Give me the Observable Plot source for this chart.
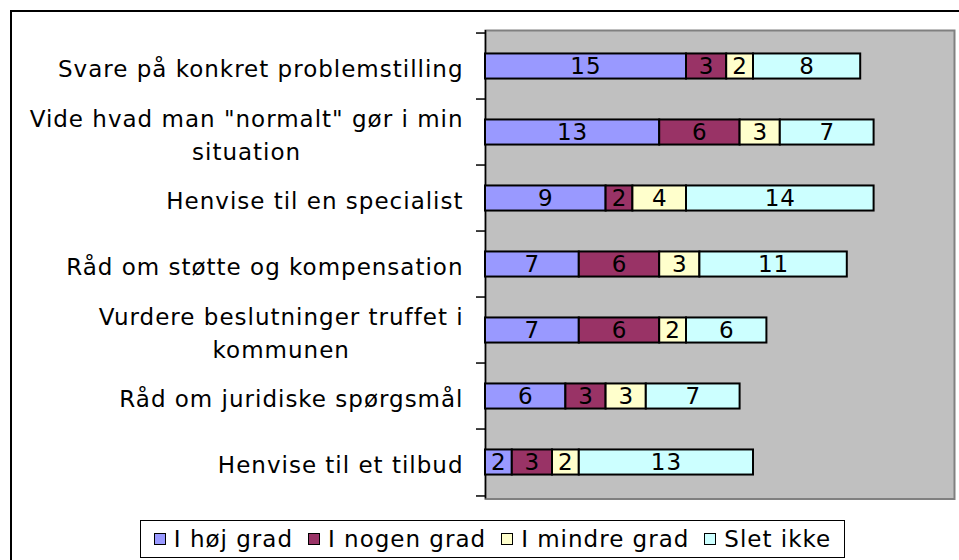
<!DOCTYPE html>
<html>
<head>
<meta charset="utf-8">
<script src="https://cdn.jsdelivr.net/npm/d3@7"></script>
<script src="https://cdn.jsdelivr.net/npm/@observablehq/plot@0.6"></script>
<style>
  html, body { margin: 0; padding: 0; background: #fff; overflow: hidden; width: 959px; height: 560px; }
  body { position: relative; font-family: "DejaVu Sans", Verdana, sans-serif; }
  #frame { position: absolute; left: 10px; top: 10px; width: 1000px; height: 600px; border: 2px solid #000; box-sizing: border-box; }
  #chart { position: absolute; left: 0; top: 0; }
  #legend { position: absolute; left: 140px; top: 520px; width: 705px; height: 38px; border: 1px solid #000; box-sizing: border-box; background: #fff;
            display: flex; align-items: center; justify-content: center; gap: 15px; font-size: 23px; letter-spacing: 1px; color: #000; white-space: nowrap; }
  #legend .item { display: flex; align-items: center; }
  #legend .sw { width: 10px; height: 10px; border: 1.5px solid #000; margin-right: 8px; }
</style>
</head>
<body>
<div id="frame"></div>
<div id="chart"></div>
<div id="legend"></div>
<script>
const categories = [
  "Svare på konkret problemstilling",
  "Vide hvad man \"normalt\" gør i min situation",
  "Henvise til en specialist",
  "Råd om støtte og kompensation",
  "Vurdere beslutninger truffet i kommunen",
  "Råd om juridiske spørgsmål",
  "Henvise til et tilbud"
];
const categoryLabels = [
  "Svare på konkret problemstilling",
  "Vide hvad man \"normalt\" gør i min\nsituation",
  "Henvise til en specialist",
  "Råd om støtte og kompensation",
  "Vurdere beslutninger truffet i\nkommunen",
  "Råd om juridiske spørgsmål",
  "Henvise til et tilbud"
];
const seriesNames = ["I høj grad", "I nogen grad", "I mindre grad", "Slet ikke"];
const seriesColors = ["#9999FF", "#993366", "#FFFFCC", "#CCFFFF"];
const iHojGrad     = [15, 13, 9, 7, 7, 6, 2];
const iNogenGrad   = [3, 6, 2, 6, 6, 3, 3];
const iMindreGrad  = [2, 3, 4, 3, 2, 3, 2];
const sletIkke     = [8, 7, 14, 11, 6, 7, 13];

const seriesValues = [iHojGrad, iNogenGrad, iMindreGrad, sletIkke];
const data = [];
categories.forEach((c, i) => {
  seriesNames.forEach((s, j) => {
    data.push({category: c, series: s, value: seriesValues[j][i]});
  });
});

const W = 959, H = 510;
const mL = 485, mR = 5, mT = 30, mB = 11.5;
const step = (H - mT - mB) / categories.length;
const barH = 26;
const inset = (step - barH) / 2;
const fontSize = 23;
const ls = 1;
const font = `${fontSize}px "DejaVu Sans"`;

const ctx = document.createElement("canvas").getContext("2d");
ctx.font = font;
const measure = (s) => Math.max(...s.split("\n").map(l => ctx.measureText(l).width + l.length * ls));

const labelMarks = categories.map((c, i) => {
  const w = measure(categoryLabels[i]);
  return Plot.text([c], {
    y: d => d,
    text: () => categoryLabels[i],
    frameAnchor: "left",
    textAnchor: "middle",
    lineAnchor: "middle",
    lineHeight: 1.45,
    dx: -(22 + w / 2),
    fontSize,
    fill: "#000"
  });
});

const chart = Plot.plot({
  width: W,
  height: H,
  marginLeft: mL,
  marginRight: mR,
  marginTop: mT,
  marginBottom: mB,
  style: {fontFamily: '"DejaVu Sans", Verdana, sans-serif', fontSize: `${fontSize}px`, letterSpacing: `${ls}px`, background: "transparent", overflow: "visible"},
  x: {domain: [0, 35], axis: null},
  y: {domain: categories, padding: 0, axis: null},
  color: {domain: seriesNames, range: seriesColors},
  marks: [
    Plot.frame({fill: "#C0C0C0", stroke: "#808080", strokeWidth: 2}),
    Plot.ruleX([0], {stroke: "#000", strokeWidth: 1.5}),
    Plot.axisY({ticks: categories, tickSize: 9, tickFormat: () => "", label: null, dy: -step / 2, stroke: "#000", strokeWidth: 1.5}),
    Plot.axisY({ticks: categories.slice(-1), tickSize: 9, tickFormat: () => "", label: null, dy: step / 2, stroke: "#000", strokeWidth: 1.5}),
    Plot.barX(data, Plot.stackX({
      x: "value", y: "category", fill: "series", order: seriesNames,
      stroke: "#000", strokeWidth: 2, insetTop: inset, insetBottom: inset
    })),
    Plot.text(data, Plot.stackX({
      x: "value", y: "category", z: "series", order: seriesNames,
      text: d => String(d.value), fill: "#000", fontSize
    })),
    ...labelMarks
  ]
});
document.getElementById("chart").appendChild(chart);

const legend = document.getElementById("legend");
seriesNames.forEach((s, j) => {
  const item = document.createElement("div");
  item.className = "item";
  const sw = document.createElement("div");
  sw.className = "sw";
  sw.style.background = seriesColors[j];
  const t = document.createElement("span");
  t.textContent = s;
  item.appendChild(sw);
  item.appendChild(t);
  legend.appendChild(item);
});
</script>
</body>
</html>
